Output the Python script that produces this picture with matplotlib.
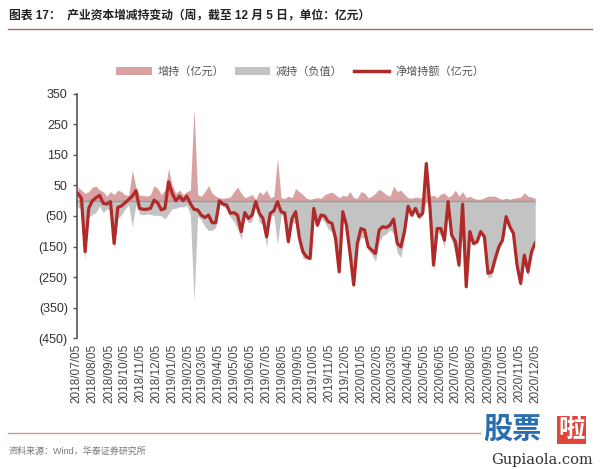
import numpy as np
import pandas as pd
import matplotlib
matplotlib.use('Agg')
import matplotlib.pyplot as plt
from matplotlib.patches import Patch
from matplotlib.lines import Line2D
from matplotlib.ticker import FuncFormatter

plt.rcParams['font.family'] = ['Liberation Sans', 'Noto Sans CJK SC']

# 每周数据（亿元），截至 2020-12-05
weeks = pd.date_range(end='2020-12-05', periods=127, freq='7D')

increase = [45, 35, 24, 30, 45, 48, 35, 30, 15, 30,
            20, 35, 30, 20, 18, 100, 45, 18, 18, 15,
            20, 50, 40, 20, 35, 105, 50, 25, 35, 20,
            30, 35, 300, 20, 15, 30, 50, 25, 15, 10,
            8, 10, 12, 30, 45, 25, 10, 15, 20, 5,
            30, 20, 35, 10, 15, 140, 10, 8, 15, 10,
            40, 30, 20, 8, 5, 8, 10, 8, 20, 25,
            28, 20, 10, 18, 15, 30, 10, 8, 30, 25,
            10, 15, 25, 38, 30, 20, 15, 48, 30, 35,
            20, 10, 8, 12, 10, 8, 125, 15, 18, 10,
            22, 25, 12, 18, 35, 15, 30, 10, 15, 8,
            5, 5, 10, 15, 15, 15, 8, 5, 8, 5,
            8, 10, 12, 26, 15, 12, 8]

decrease = [-21, -27, -191, -55, -45, -38, -17, -39, -26, -33,
            -160, -57, -47, -27, -14, -85, -12, -43, -46, -43,
            -45, -48, -47, -50, -60, -43, -26, -25, -20, -20,
            -15, -44, -328, -50, -62, -85, -97, -97, -87, -10,
            -19, -24, -53, -69, -92, -126, -49, -73, -67, -8,
            -71, -78, -153, -51, -48, -143, -46, -48, -149, -68,
            -76, -150, -187, -192, -194, -33, -90, -55, -70, -94,
            -102, -143, -243, -54, -95, -203, -286, -148, -121, -121,
            -161, -177, -198, -134, -115, -108, -95, -108, -170, -186,
            -120, -28, -55, -37, -62, -49, -3, -35, -229, -101,
            -113, -154, -15, -131, -169, -226, -41, -292, -116, -148,
            -139, -106, -128, -253, -248, -204, -159, -134, -60, -90,
            -115, -221, -283, -204, -248, -179, -146]

# 净增持额 = 增持 + 减持（负值）
net = np.array(increase) + np.array(decrease)

month_ticks = pd.date_range('2018-07-01', '2020-12-01', freq='MS') + pd.Timedelta(days=4)
month_labels = [d.strftime('%Y/%m/%d') for d in month_ticks]

c_inc = '#d8a2a2'
c_dec = '#c3c3c3'
c_net = '#b02a2a'

fig = plt.figure(figsize=(6.0, 4.69), dpi=100)
ax = fig.add_axes([0.128, 0.2793, 0.764, 0.5203])

ax.fill_between(weeks, 0, increase, color=c_inc, lw=0)
ax.fill_between(weeks, 0, decrease, color=c_dec, lw=0)
ax.axhline(0, color='#9a9a9a', lw=1.0)
ax.plot(weeks, net, color=c_net, lw=2.3, solid_joinstyle='round')

ax.set_ylim(-450, 350)
ax.set_yticks(np.arange(-450, 351, 100))
ax.yaxis.set_major_formatter(FuncFormatter(
    lambda v, p: f'({abs(int(v))})' if v < 0 else f'{int(v)}'))
ax.set_xlim(month_ticks[0], month_ticks[-1])

for s in ['top', 'right', 'bottom']:
    ax.spines[s].set_visible(False)
ax.spines['left'].set_color('#555555')
ax.spines['left'].set_linewidth(1.2)
ax.tick_params(axis='y', colors='#555555', labelcolor='#333333',
               labelsize=9, length=3, width=1)

ax.set_xticks(month_ticks)
ax.set_xticklabels(month_labels, rotation=90, fontsize=8.5, color='#444444')
ax.tick_params(axis='x', length=0, pad=4)

# 零轴上的月度刻度
sec = ax.secondary_xaxis(450 / 800)
sec.set_xticks(month_ticks)
sec.set_xticklabels([])
sec.tick_params(axis='x', direction='out', length=2.5, colors='#9a9a9a')
sec.spines['bottom'].set_visible(False)
sec.spines['top'].set_visible(False)
sec.xaxis.set_ticks_position('bottom')

handles = [Patch(facecolor=c_inc, edgecolor='none'),
           Patch(facecolor=c_dec, edgecolor='none'),
           Line2D([0], [0], color=c_net, lw=2.5)]
fig.legend(handles, ['增持（亿元）', '减持（负值）', '净增持额（亿元）'],
           loc='center', bbox_to_anchor=(0.5, 0.848), ncol=3, frameon=False,
           fontsize=8, labelcolor='#555555', handlelength=3.2, handleheight=0.8,
           columnspacing=1.0, handletextpad=0.5)

fig.text(0.015, 0.966, '图表 17：  产业资本增减持变动（周，截至 12 月 5 日，单位：亿元）',
         fontsize=8.5, fontweight='bold', color='#222222', va='center')
fig.add_artist(Line2D([0.013, 0.987], [0.938, 0.938], color='#b5646a', lw=1.0))

fig.add_artist(Line2D([0.013, 0.80], [0.077, 0.077], color='#c89a9a', lw=1.0))
fig.text(0.015, 0.038, '资料来源：Wind，华泰证券研究所', fontsize=6.5,
         color='#777777', va='center')

# 水印
fig.text(0.805, 0.083, '股票', fontsize=21, fontweight='bold', color='#2a6db0',
         va='center')
fig.text(0.93, 0.083, '啦', fontsize=19, fontweight='bold', color='white',
         va='center', bbox=dict(boxstyle='square,pad=0.05', fc='#e0443a', ec='none'))
fig.text(0.988, 0.02, 'Gupiaola.com', fontsize=10.5, color='#333333',
         ha='right', va='center', family='DejaVu Serif')

fig.savefig('out.png', dpi=100)
